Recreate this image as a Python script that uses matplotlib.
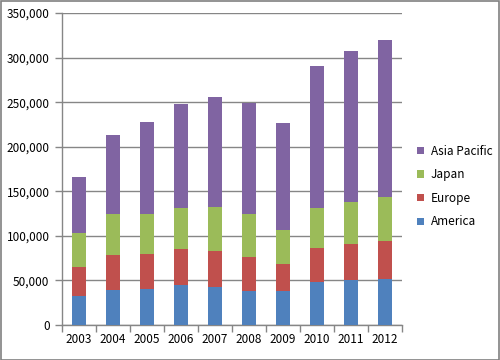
import matplotlib
matplotlib.use("Agg")
import matplotlib.pyplot as plt
import numpy as np
from matplotlib.ticker import FuncFormatter, FixedLocator
from matplotlib.patches import Rectangle

years = ["2003", "2004", "2005", "2006", "2007", "2008", "2009", "2010", "2011", "2012"]
america = [33000, 39500, 40500, 44500, 42500, 38000, 38000, 48000, 50500, 51500]
europe = [32000, 39000, 39000, 41000, 40500, 38500, 30500, 38500, 40500, 43000]
japan = [38000, 46000, 45000, 46000, 49500, 48000, 38000, 45000, 47000, 49000]
asia_pacific = [63000, 88500, 103000, 116500, 123500, 124500, 120000, 159000, 169500, 176000]

series = [("America", america, "#4F81BD"),
          ("Europe", europe, "#C0504D"),
          ("Japan", japan, "#9BBB59"),
          ("Asia Pacific", asia_pacific, "#8064A2")]

plt.rcParams['font.family'] = ['Noto Sans CJK JP', 'DejaVu Sans']
plt.rcParams['font.size'] = 8.5

fig = plt.figure(figsize=(5, 3.6), dpi=100)
ax = fig.add_axes([0.124, 0.0972, 0.68, 0.8667])

x = np.arange(len(years))
bottom = np.zeros(len(years))
handles = []
for name, vals, col in series:
    b = ax.bar(x, vals, width=0.41, bottom=bottom, color=col, label=name, zorder=3)
    bottom += np.array(vals)
    handles.append(b)

grid_col = "#868686"
ax.set_ylim(0, 350000)
ax.set_xlim(-0.5, len(years) - 0.5)
ax.set_yticks(np.arange(0, 350001, 50000))
ax.yaxis.set_major_formatter(FuncFormatter(lambda v, p: f"{int(v):,}"))
ax.grid(axis="y", color=grid_col, linewidth=1, zorder=0)
ax.set_xticks(x)
ax.set_xticklabels(years)
ax.xaxis.set_minor_locator(FixedLocator(np.arange(-0.5, len(years), 1.0)))
ax.tick_params(axis="x", which="major", length=0, pad=6, colors="black")
ax.tick_params(axis="x", which="minor", length=5, color=grid_col, width=1)
ax.tick_params(axis="y", length=5, color=grid_col, width=1, pad=4)
for s in ["top", "right"]:
    ax.spines[s].set_visible(False)
for s in ["left", "bottom"]:
    ax.spines[s].set_color(grid_col)
    ax.spines[s].set_linewidth(1)

leg = fig.legend(handles[::-1], [s[0] for s in series][::-1],
                 loc="center left", bbox_to_anchor=(0.812, 0.482),
                 frameon=False, handlelength=0.6, handleheight=0.6,
                 labelspacing=0.9, handletextpad=0.6)

fig.patches.append(Rectangle((0.001, 0.001), 0.997, 0.996, transform=fig.transFigure,
                             fill=False, edgecolor="#808080", linewidth=1.2))

fig.savefig("out.png", dpi=100)
